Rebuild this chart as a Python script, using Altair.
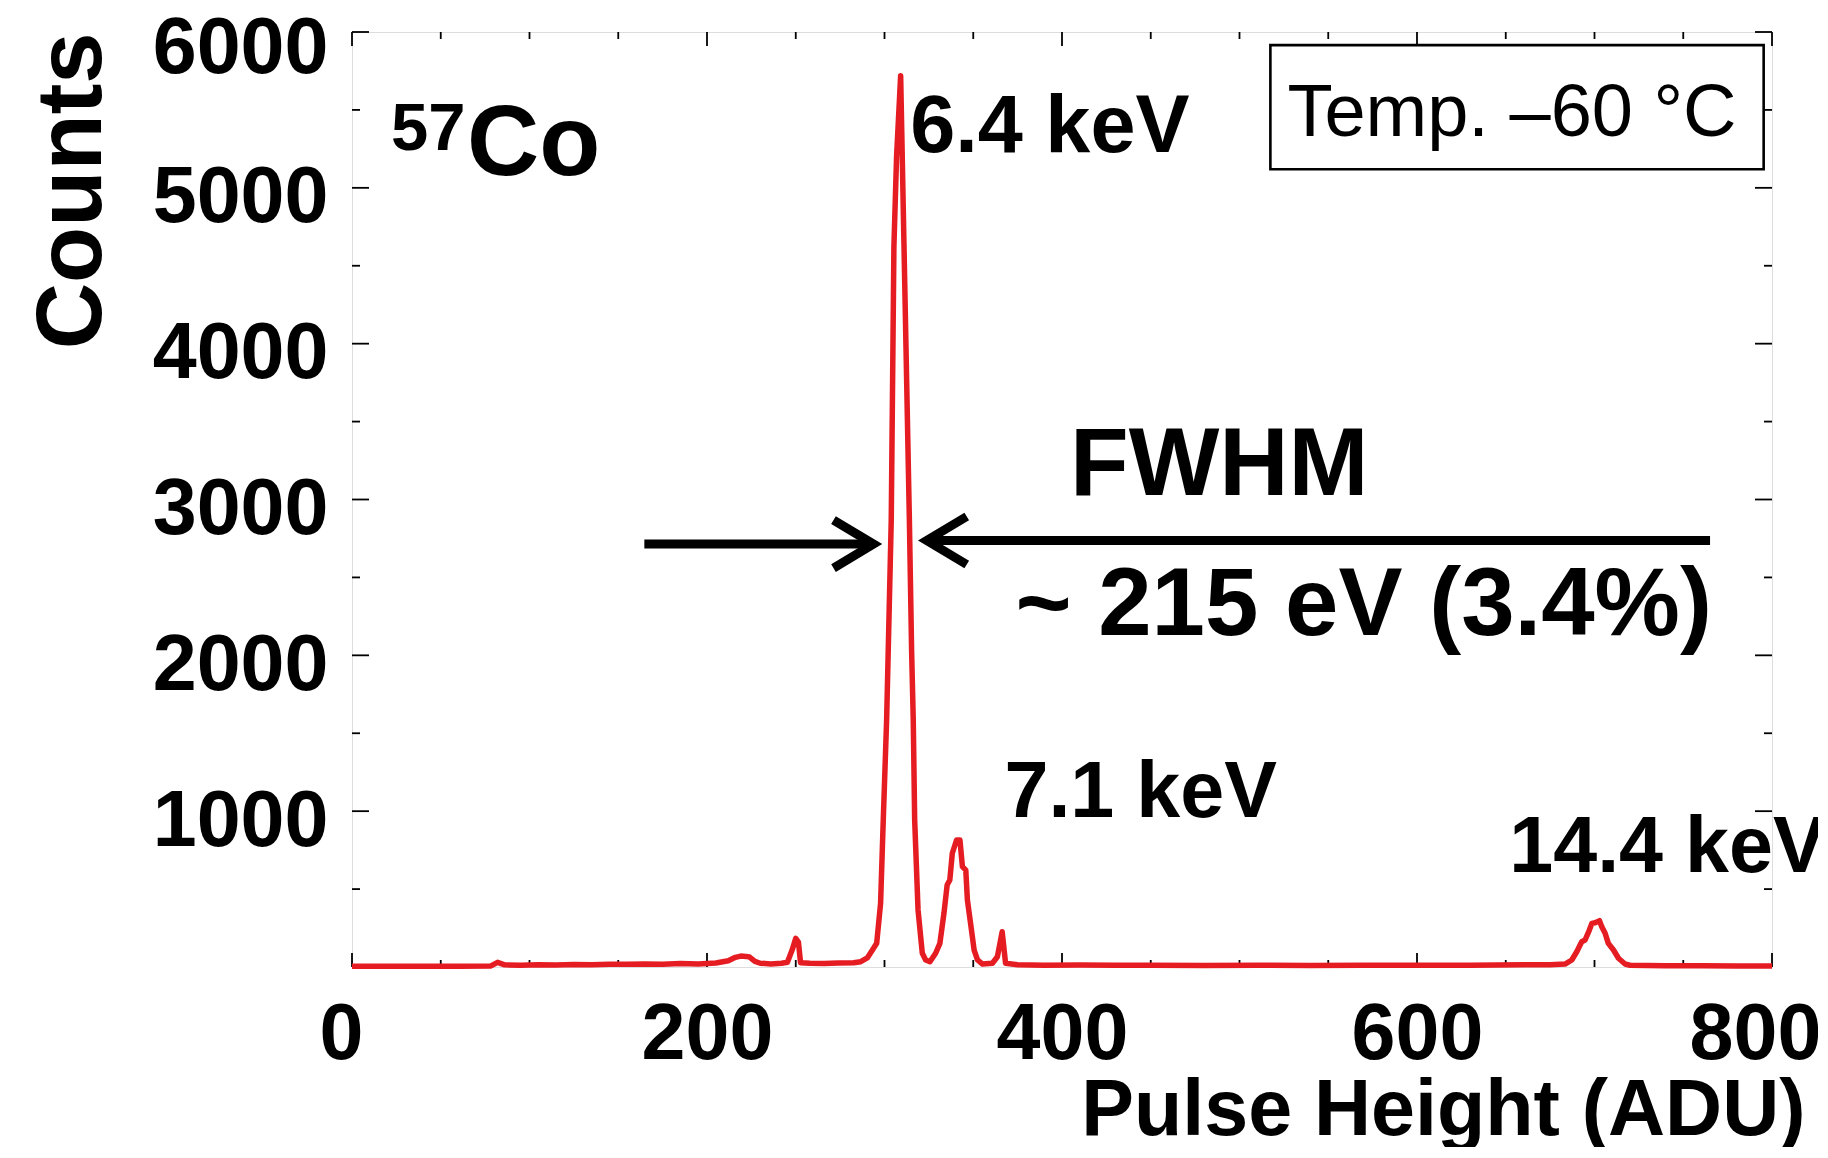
import altair as alt
import pandas as pd

# ---------------- data ----------------
adu = [0, 20, 40, 60, 78, 82, 86, 95, 105, 115, 125, 135, 145, 155, 165, 175, 185, 195,
       205, 212, 216, 219, 222, 224, 227, 230, 236, 242, 245.3, 248, 250, 251.5, 252.7,
       258, 266, 274, 282.6, 286.6, 290.3, 293.2, 295.6, 297.8, 299.3, 301.2, 303.8,
       305.3, 306.8, 309.1, 310, 311, 314.0, 315.3, 316.2, 317, 318.9, 320, 321.3, 323.2,
       325.6, 328.8, 331.2, 333.5, 335.3, 336.8, 338.2, 340.6, 342.5, 343.9, 345.8, 346.7,
       349, 350.5, 352.4, 355.2, 360.8, 363.6, 366.3, 368.2, 375, 390, 410, 430, 450, 480,
       510, 540, 570, 600, 630, 660, 675, 683.4, 687.2, 690, 692.8, 694.7, 697.1, 698.5,
       700.3, 701.6, 702.8, 704.1, 706, 707.8, 710.7, 713.5, 717.2, 720, 740, 760, 780, 800]
counts = [5, 5, 5, 5, 6, 30, 14, 12, 15, 13, 16, 15, 18, 17, 20, 18, 22, 20,
          26, 40, 62, 70, 68, 64, 36, 24, 20, 24, 30, 110, 184, 160, 28,
          24, 22, 25, 27, 34, 58, 109, 152, 409, 943, 1585, 2868,
          4620, 5200, 5720, 5200, 4620, 2880, 2015, 1585, 943, 366, 237, 88, 45,
          34, 88, 152, 345, 526, 558, 730, 815, 815, 644, 622, 430,
          237, 109, 45, 19, 24, 66, 226, 24, 14, 12, 13, 11, 12, 10,
          11, 10, 12, 11, 12, 14, 15, 19, 45, 98, 162, 173, 237, 280,
          284, 291, 297, 259, 216, 152, 109, 56, 19, 11, 8, 8, 7, 7]

x_tick_labels = [0, 200, 400, 600, 800]
y_tick_labels = [1000, 2000, 3000, 4000, 5000, 6000]
x_minor = [50, 100, 150, 250, 300, 350, 450, 500, 550, 650, 700, 750]
y_minor = [500, 1500, 2500, 3500, 4500, 5500]

bold_text = ["57", "Co", "6.4 keV", "7.1 keV", "14.4 keV", "FWHM", "~ 215 eV (3.4%)"]
bold_x = [22, 64.8, 314.5, 367.6, 652.0, 404.5, 373.8]
bold_y = [5243, 5085, 5228, 962, 612, 3026, 2130]
bold_size = [67, 100, 81, 79, 79, 96, 96]

temp_text = ["Temp. \u201360 \u00b0C"]
temp_x = [653.5]
temp_y = [5333]
box_x, box_x2, box_y, box_y2 = [517.4], [795.3], [5916], [5119]

arrow_x = [164.7, 765.1]
arrow_x2 = [293.8, 323.8]
arrow_y = [2714, 2737]

# ---------------- chart ----------------
W, H = 1420, 935
FONT = "Liberation Sans"
xs = alt.Scale(domain=[0, 800], nice=False, zero=False)
ys = alt.Scale(domain=[0, 6000], nice=False, zero=False)

X_AXIS = alt.Axis(values=x_tick_labels, format="d", ticks=False, tickSize=0, domain=False,
                  grid=False, labelFont=FONT, labelFontSize=79, labelFontWeight="bold",
                  labelColor="black", labelPadding=29, labelFlush=False, labelOverlap=False,
                  labelOffset={"condition": [{"test": "datum.value === 800", "value": -17},
                                             {"test": "datum.value === 0", "value": -11}],
                               "value": 0},
                  title="Pulse Height (ADU)", titleFont=FONT, titleFontSize=79,
                  titleFontWeight="bold", titleColor="black", titleX=1453, titleY=167,
                  titleAlign="right", titleBaseline="alphabetic")
Y_AXIS = alt.Axis(values=y_tick_labels, format="d", ticks=False, tickSize=0, domain=False,
                  grid=False, labelFont=FONT, labelFontSize=79, labelFontWeight="bold",
                  labelColor="black", labelPadding=24, labelFlush=False, labelOverlap=False,
                  labelOffset={"condition": {"test": "datum.value === 6000", "value": 16},
                               "value": 10},
                  title="Counts", titleFont=FONT, titleFontSize=92, titleFontWeight="bold",
                  titleColor="black", titleAngle=270, titleX=-252, titleY=0,
                  titleAlign="right", titleBaseline="alphabetic")

X = lambda f="x": alt.X(f"{f}:Q", scale=xs, axis=X_AXIS)
Y = lambda f="y": alt.Y(f"{f}:Q", scale=ys, axis=Y_AXIS)

spec_df = pd.DataFrame({"x": adu, "y": counts})
spectrum = alt.Chart(spec_df).mark_line(color="#e61c23", strokeWidth=5.5, strokeJoin="round").encode(
    x=X(), y=Y(), order="x:Q")

def xt(vals, L, top):
    d = pd.DataFrame({"x": vals})
    if top:
        return alt.Chart(d).mark_rule(color="black", strokeWidth=1.8).encode(
            x=X(), y=alt.value(0), y2=alt.value(L))
    return alt.Chart(d).mark_rule(color="black", strokeWidth=1.8).encode(
        x=X(), y=alt.value(H), y2=alt.value(H - L))

def yt(vals, L, right):
    d = pd.DataFrame({"y": vals})
    if right:
        return alt.Chart(d).mark_rule(color="black", strokeWidth=1.8).encode(
            y=Y(), x=alt.value(W), x2=alt.value(W - L))
    return alt.Chart(d).mark_rule(color="black", strokeWidth=1.8).encode(
        y=Y(), x=alt.value(0), x2=alt.value(L))

ticks = [xt(x_tick_labels, 14, False), xt(x_minor, 7, False),
         xt(x_tick_labels, 14, True), xt(x_minor, 7, True),
         yt(y_tick_labels, 17, False), yt(y_minor, 8, False),
         yt(y_tick_labels, 17, True), yt(y_minor, 8, True)]

box = alt.Chart(pd.DataFrame({"x": box_x, "x2": box_x2, "y": box_y, "y2": box_y2})).mark_rect(
    fill="white", stroke="black", strokeWidth=2.6).encode(x=X(), x2="x2:Q", y=Y(), y2="y2:Q")

temp = alt.Chart(pd.DataFrame({"x": temp_x, "y": temp_y, "t": temp_text})).mark_text(
    font=FONT, fontSize=74, fontWeight="normal", color="black", align="center",
    baseline="alphabetic").encode(x=X(), y=Y(), text="t:N")

btxt = alt.Chart(pd.DataFrame({"x": bold_x, "y": bold_y, "t": bold_text, "fs": bold_size})).mark_text(
    font=FONT, fontWeight="bold", color="black", align="left", baseline="alphabetic").encode(
    x=X(), y=Y(), text="t:N", size=alt.Size("fs:Q", scale=None, legend=None))

arr_df = pd.DataFrame({"x": arrow_x, "x2": arrow_x2, "y": arrow_y})
shafts = alt.Chart(arr_df).mark_rule(color="black", strokeWidth=9, strokeCap="butt").encode(
    x=X(), x2="x2:Q", y=Y())

head_df = pd.DataFrame({"x": arrow_x2, "y": arrow_y,
                        "s": ["M -1 -0.6 L 0 0 L -1 0.6", "M 1 -0.6 L 0 0 L 1 0.6"]})
heads = alt.Chart(head_df).mark_point(filled=False, color="black", strokeWidth=9,
                                      size=6400, strokeJoin="miter", opacity=1).encode(
    x=X(), y=Y(), shape=alt.Shape("s:N", scale=None, legend=None))

chart = alt.layer(box, *ticks, spectrum, shafts, heads, btxt, temp).properties(
    width=W, height=H,
    autosize=alt.AutoSizeParams(type="none"),
    padding={"left": 344, "top": 24, "right": 46, "bottom": 180},
).configure_view(stroke="black", strokeWidth=3).configure(background="white")

chart.save("out.html", embed_options={"renderer": "svg", "actions": False})
